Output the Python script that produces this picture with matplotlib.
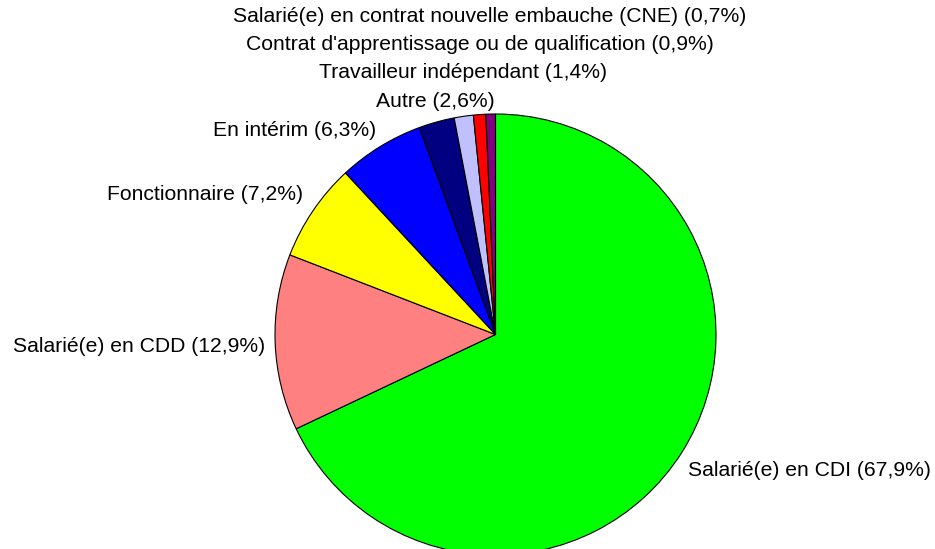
import matplotlib
matplotlib.use("Agg")
import matplotlib.pyplot as plt

labels = ["Salarié(e) en CDI", "Salarié(e) en CDD", "Fonctionnaire", "En intérim",
          "Autre", "Travailleur indépendant",
          "Contrat d'apprentissage ou de qualification",
          "Salarié(e) en contrat nouvelle embauche (CNE)"]
values = [67.9, 12.9, 7.2, 6.3, 2.6, 1.4, 0.9, 0.7]
colors = ["#00FF00", "#FF8080", "#FFFF00", "#0000FF", "#000080", "#C0C0FF", "#FF0000", "#800080"]

W, H = 935, 549
fig = plt.figure(figsize=(W / 100, H / 100), dpi=100)
cx, cy, r = 495.5, 334.5, 220.5
ax = fig.add_axes([(cx - r) / W, (H - cy - r) / H, 2 * r / W, 2 * r / H])
ax.pie(values, colors=colors, startangle=90, counterclock=False, radius=1,
       wedgeprops=dict(edgecolor="black", linewidth=0.8))
ax.set_xlim(-1, 1)
ax.set_ylim(-1, 1)
ax.set_aspect("equal")
ax.axis("off")

plt.rcParams['font.family'] = ['Liberation Sans', 'DejaVu Sans']
fs = 15.2
# label anchor positions in pixels (x, y from top), alignment
pos = [(688, 470, "left"), (265, 346, "right"), (303, 194, "right"), (376, 131, "right"),
       (435, 101, "center"), (463, 72, "center"), (480, 45, "center"), (489.5, 16, "center")]
for lab, v, (px, py, ha) in zip(labels, values, pos):
    txt = f"{lab} ({str(v).replace('.', ',')}%)"
    fig.text(px / W, 1 - py / H, txt, ha=ha, va="center", fontsize=fs,
             family=['Liberation Sans', 'DejaVu Sans'])

fig.savefig("out.png", dpi=100)
